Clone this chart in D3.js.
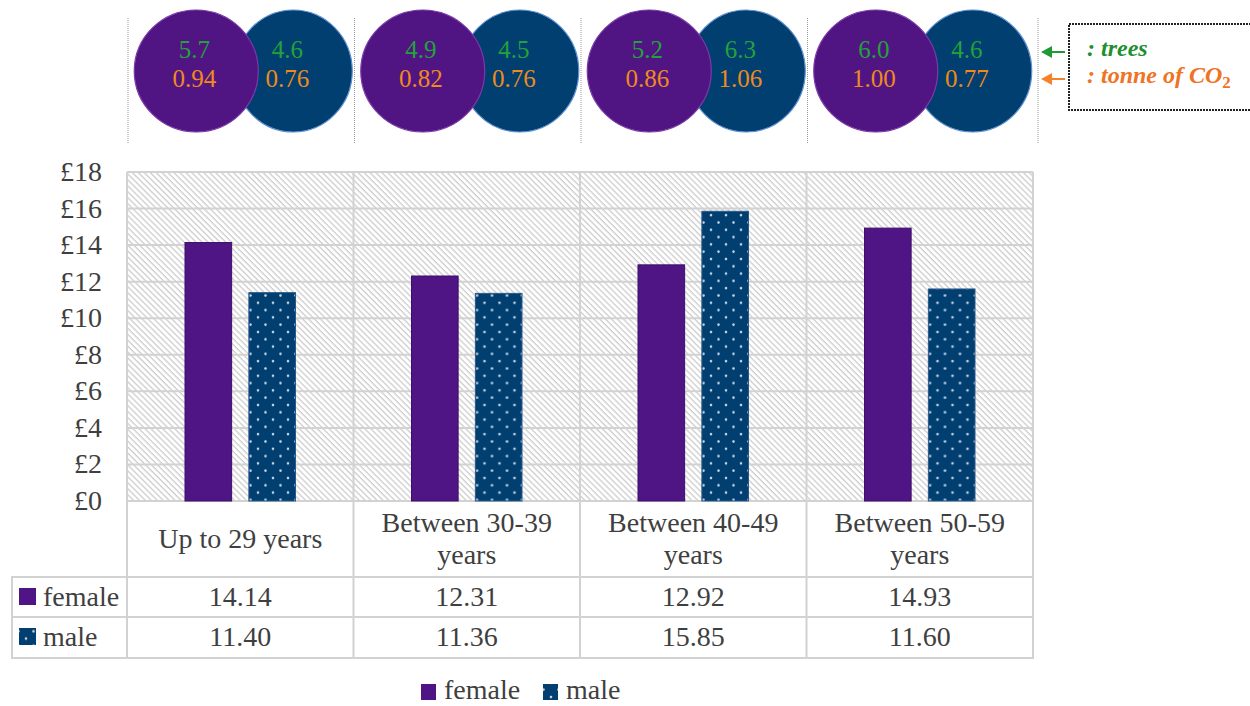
<!DOCTYPE html>
<html>
<head>
<meta charset="utf-8">
<script src="https://cdn.jsdelivr.net/npm/d3@7"></script>
<style>
  body { margin: 0; background: #fff; }
</style>
</head>
<body>
<div id="chart"></div>
<script>
// data
var categories = ["Up to 29 years", "Between 30-39 years", "Between 40-49 years", "Between 50-59 years"];
var series = ["female", "male"];
var female = [14.14, 12.31, 12.92, 14.93];
var male = [11.40, 11.36, 15.85, 11.60];
var treesFemale = [5.7, 4.9, 5.2, 6.0];
var treesMale = [4.6, 4.5, 6.3, 4.6];
var co2Female = [0.94, 0.82, 0.86, 1.00];
var co2Male = [0.76, 0.76, 1.06, 0.77];
var yTicks = [0, 2, 4, 6, 8, 10, 12, 14, 16, 18];

var width = 1250, height = 706;
var plotL = 127, plotR = 1033, plotT = 172, plotB = 501;
var tableL = 12, rowH1 = 577, rowH2 = 617, rowH3 = 658;

var purple = "#501585", blue = "#003f70";
var gridCol = "#d2d2d2", textCol = "#3f3f3f";
var serif = "'Liberation Serif', 'DejaVu Serif', serif";

var svg = d3.select("#chart").append("svg")
    .attr("width", width)
    .attr("height", height)
    .style("font-family", serif);

var defs = svg.append("defs");

// light diagonal hatch behind the bars
var hatch = defs.append("pattern")
    .attr("id", "hatch")
    .attr("patternUnits", "userSpaceOnUse")
    .attr("width", 4.2).attr("height", 4.2)
    .attr("patternTransform", "rotate(-45)");
hatch.append("rect").attr("width", 4.2).attr("height", 4.2).attr("fill", "#fff");
hatch.append("line")
    .attr("x1", 1).attr("y1", 0).attr("x2", 1).attr("y2", 4.2)
    .attr("stroke", "#c4c4c4").attr("stroke-width", 1.1);

// dotted fill for male bars
var dots = defs.append("pattern")
    .attr("id", "dots")
    .attr("patternUnits", "userSpaceOnUse")
    .attr("width", 15).attr("height", 14.6);
dots.append("rect").attr("width", 15).attr("height", 14.6).attr("fill", blue);
dots.append("circle").attr("cx", 3.5).attr("cy", 3.5).attr("r", 1.3).attr("fill", "#c9d5e6");
dots.append("circle").attr("cx", 11).attr("cy", 10.8).attr("r", 1.3).attr("fill", "#c9d5e6");

var fills = { female: purple, male: "url(#dots)" };
var values = { female: female, male: male };

var y = d3.scaleLinear().domain([0, 18]).range([plotB, plotT]);
var x0 = d3.scaleBand().domain(categories).range([plotL, plotR]);
var bw = x0.bandwidth();
var x1 = d3.scaleBand().domain(series).range([58, bw - 58]).paddingInner(0.27);

// plot background
svg.append("rect")
    .attr("x", plotL).attr("y", plotT)
    .attr("width", plotR - plotL).attr("height", plotB - plotT)
    .attr("fill", "url(#hatch)");

// horizontal grid
svg.selectAll(".hgrid")
    .data(yTicks)
    .enter().append("line")
    .attr("x1", plotL).attr("x2", plotR)
    .attr("y1", function (d) { return y(d); })
    .attr("y2", function (d) { return y(d); })
    .attr("stroke", gridCol).attr("stroke-width", 2);

// y axis labels
svg.selectAll(".ylab")
    .data(yTicks)
    .enter().append("text")
    .attr("x", 102)
    .attr("y", function (d) { return y(d) + 9; })
    .attr("text-anchor", "end")
    .attr("font-size", 28)
    .attr("fill", textCol)
    .text(function (d) { return "£" + d; });

// bars
var groups = svg.selectAll(".grp")
    .data(categories)
    .enter().append("g")
    .attr("transform", function (d) { return "translate(" + x0(d) + ",0)"; });

groups.selectAll("rect")
    .data(function (d, i) { return series.map(function (s) { return { key: s, value: values[s][i] }; }); })
    .enter().append("rect")
    .attr("x", function (d) { return x1(d.key); })
    .attr("width", x1.bandwidth())
    .attr("y", function (d) { return y(d.value); })
    .attr("height", function (d) { return y(0) - y(d.value); })
    .attr("fill", function (d) { return fills[d.key]; })
    .attr("stroke", function (d) { return d.key == "female" ? "#3d0f6a" : "#2a5a8c"; })
    .attr("stroke-width", 1);

// table lines
var colEdges = categories.map(function (c) { return x0(c); }).concat([plotR]);
svg.selectAll(".vline")
    .data(colEdges)
    .enter().append("line")
    .attr("x1", function (d) { return d; }).attr("x2", function (d) { return d; })
    .attr("y1", plotT).attr("y2", rowH3)
    .attr("stroke", gridCol).attr("stroke-width", 2);
svg.append("line")
    .attr("x1", tableL).attr("x2", tableL).attr("y1", rowH1).attr("y2", rowH3)
    .attr("stroke", gridCol).attr("stroke-width", 2);
[rowH1, rowH2, rowH3].forEach(function (yy) {
    svg.append("line")
        .attr("x1", tableL - 1).attr("x2", plotR + 1).attr("y1", yy).attr("y2", yy)
        .attr("stroke", gridCol).attr("stroke-width", 2);
});

// category headers (wrapped)
svg.selectAll(".cat")
    .data(categories)
    .enter().append("text")
    .attr("text-anchor", "middle")
    .attr("font-size", 28)
    .attr("fill", textCol)
    .each(function (d) {
        var el = d3.select(this);
        var cx = x0(d) + bw / 2;
        var lines = d.length > 16 ? [d.replace(/ years$/, ""), "years"] : [d];
        var startY = lines.length == 1 ? 548 : 532;
        lines.forEach(function (ln, k) {
            el.append("tspan").attr("x", cx).attr("y", startY + k * 32).text(ln);
        });
    });

// table rows
var rowBase = { female: 606, male: 646 };
series.forEach(function (s) {
    svg.append("rect")
        .attr("x", 19).attr("y", rowBase[s] - 18)
        .attr("width", 17).attr("height", 17)
        .attr("fill", fills[s]);
    svg.append("text")
        .attr("x", 43).attr("y", rowBase[s])
        .attr("font-size", 28).attr("fill", textCol)
        .text(s);
    svg.selectAll(".val-" + s)
        .data(values[s])
        .enter().append("text")
        .attr("x", function (d, i) { return x0(categories[i]) + bw / 2; })
        .attr("y", rowBase[s])
        .attr("text-anchor", "middle")
        .attr("font-size", 28).attr("fill", textCol)
        .text(function (d) { return d.toFixed(2); });
});

// bottom legend
var legX = { female: 421, male: 543 };
series.forEach(function (s) {
    svg.append("rect")
        .attr("x", legX[s]).attr("y", 684)
        .attr("width", 15).attr("height", 16)
        .attr("fill", fills[s]);
    svg.append("text")
        .attr("x", legX[s] + 23).attr("y", 699)
        .attr("font-size", 28).attr("fill", textCol)
        .text(s);
});

// top bubbles: trees and tonnes of CO2
svg.selectAll(".sep")
    .data(colEdges)
    .enter().append("line")
    .attr("x1", function (d, i) { return d + (i == colEdges.length - 1 ? 5 : 1); })
    .attr("x2", function (d, i) { return d + (i == colEdges.length - 1 ? 5 : 1); })
    .attr("y1", 18).attr("y2", 143)
    .attr("stroke", "#9a9a9a").attr("stroke-width", 1)
    .attr("stroke-dasharray", "1,1");

var bub = svg.selectAll(".bub")
    .data(categories)
    .enter().append("g")
    .attr("transform", function (d) { return "translate(" + (x0(d) + bw / 2) + ",71)"; });

bub.append("ellipse")
    .attr("cx", 53).attr("rx", 59).attr("ry", 61)
    .attr("fill", "#003f6f").attr("stroke", "#5d8fd0").attr("stroke-width", 1.2);
bub.append("ellipse")
    .attr("cx", -44).attr("rx", 62).attr("ry", 61)
    .attr("fill", "#511583").attr("stroke", "#7a3aa8").attr("stroke-width", 1.2);

var green = "#22a33a", orange = "#ee8a1e";
bub.append("text")
    .attr("x", -46).attr("y", -13)
    .attr("text-anchor", "middle").attr("font-size", 25).attr("fill", green)
    .text(function (d, i) { return treesFemale[i].toFixed(1); });
bub.append("text")
    .attr("x", -46).attr("y", 16)
    .attr("text-anchor", "middle").attr("font-size", 25).attr("fill", orange)
    .text(function (d, i) { return co2Female[i].toFixed(2); });
bub.append("text")
    .attr("x", 47).attr("y", -13)
    .attr("text-anchor", "middle").attr("font-size", 25).attr("fill", green)
    .text(function (d, i) { return treesMale[i].toFixed(1); });
bub.append("text")
    .attr("x", 47).attr("y", 16)
    .attr("text-anchor", "middle").attr("font-size", 25).attr("fill", orange)
    .text(function (d, i) { return co2Male[i].toFixed(2); });

// key box with arrows
svg.append("rect")
    .attr("x", 1069).attr("y", 24)
    .attr("width", 190).attr("height", 86)
    .attr("fill", "#fff").attr("stroke", "#222")
    .attr("stroke-width", 2).attr("stroke-dasharray", "2,1");

function arrow(yy, col) {
    svg.append("line")
        .attr("x1", 1065).attr("x2", 1050).attr("y1", yy).attr("y2", yy)
        .attr("stroke", col).attr("stroke-width", 2);
    svg.append("path")
        .attr("d", "M1041," + yy + " L1052," + (yy - 6) + " L1052," + (yy + 6) + " Z")
        .attr("fill", col);
}
arrow(52, "#1c9a34");
arrow(79, "#f5822a");

svg.append("text")
    .attr("x", 1087).attr("y", 56)
    .attr("font-size", 24).attr("font-weight", "bold").attr("font-style", "italic")
    .attr("fill", "#1e8f2e")
    .text(": trees");
var co2 = svg.append("text")
    .attr("x", 1087).attr("y", 83)
    .attr("font-size", 24).attr("font-weight", "bold").attr("font-style", "italic")
    .attr("fill", "#f07324");
co2.append("tspan").text(": tonne of CO");
co2.append("tspan").attr("dy", 5).attr("font-size", 17).attr("font-style", "normal").text("2");
</script>
</body>
</html>
